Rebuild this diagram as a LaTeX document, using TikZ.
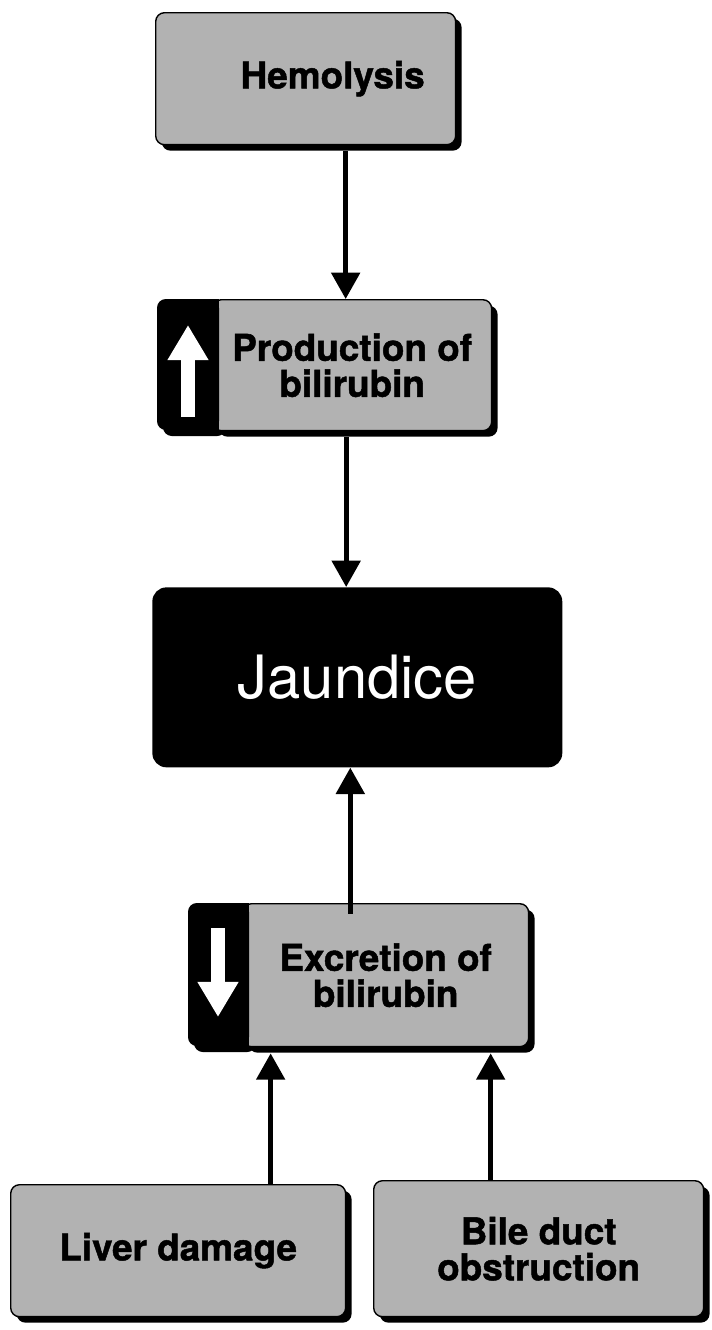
\documentclass[tikz,border=0pt]{standalone}
\usepackage{fontspec}
\setmainfont{TeX Gyre Heros}
\newfontfamily\heavyfont{TeX Gyre Heros Bold}[FakeBold=1.3]
\usetikzlibrary{arrows.meta, shadows}

\tikzset{
	greybox/.style={draw=black, line width=0.8pt, fill=black!30, rounded corners=5pt,
		anchor=north west, align=center, inner sep=0pt,
		font=\fontsize{21}{20.5}\selectfont\heavyfont,
		drop shadow={shadow xshift=3.4pt, shadow yshift=-3.4pt, fill=black, opacity=1}},
	blackbox/.style={fill=black, rounded corners=8pt, anchor=north west, inner sep=0pt,
		text=white, font=\fontsize{34}{40}\selectfont},
	band/.style={fill=black},
	arr/.style={line width=2.8pt, -{Triangle[length=15pt, width=16pt]}},
	bigarr/.style={white, line width=7.5pt, -{Triangle[length=20pt, width=22pt]}},
}

\begin{document}
\begin{tikzpicture}[x=0.02cm, y=-0.02cm]
	\useasboundingbox (0,0) rectangle (711,1330);
	
	% Kaesten
	\node[greybox, minimum width=6cm, minimum height=2.64cm] (hemo) at (155,12) {\hspace*{1.08cm}Hemolysis};
	
	\fill[band, rounded corners=5pt] (163,305) rectangle (226,436);
	\node[greybox, minimum width=5.58cm, minimum height=2.62cm] (prod) at (212,299) {Production of\\bilirubin};
	\fill[band, rounded corners=5pt] (157,299) rectangle (219,430);
	\fill[band] (205,299) rectangle (219,430);
	\draw[bigarr] (188,417) -- (188,325);
	
	\node[blackbox, minimum width=8.2cm, minimum height=3.6cm] (jaun) at (152,587) {Jaundice};
	
	\fill[band, rounded corners=5pt] (194,909) rectangle (256,1052);
	\node[greybox, minimum width=5.72cm, minimum height=2.86cm] (excr) at (242,903) {Excretion of\\bilirubin};
	\fill[band, rounded corners=5pt] (188,903) rectangle (249,1046);
	\fill[band] (235,903) rectangle (249,1046);
	\draw[bigarr] (218,928) -- (218,1017);
	
	\node[greybox, minimum width=6.7cm, minimum height=2.64cm] (liver) at (10,1184) {Liver damage};
	\node[greybox, minimum width=6.6cm, minimum height=2.72cm] (bile) at (373,1180) {Bile duct\\obstruction};
	
	% Pfeile
	\draw[arr] ([xshift=0.8cm, yshift=-3.4pt]hemo.south) -- ([xshift=0.8cm]hemo.south |- prod.north);
	\draw[arr] ([xshift=-0.12cm, yshift=-3.4pt]prod.south) -- ([xshift=-0.12cm]prod.south |- jaun.north);
	\draw[arr] ([xshift=-0.14cm, yshift=-6pt]jaun.south |- excr.north) -- ([xshift=-0.14cm]jaun.south);
	\draw[arr] ([xshift=1.85cm]liver.north) -- ([xshift=1.85cm, yshift=-3.4pt]liver.north |- excr.south);
	\draw[arr] ([xshift=-0.96cm]bile.north) -- ([xshift=-0.96cm, yshift=-3.4pt]bile.north |- excr.south);
\end{tikzpicture}
\end{document}
